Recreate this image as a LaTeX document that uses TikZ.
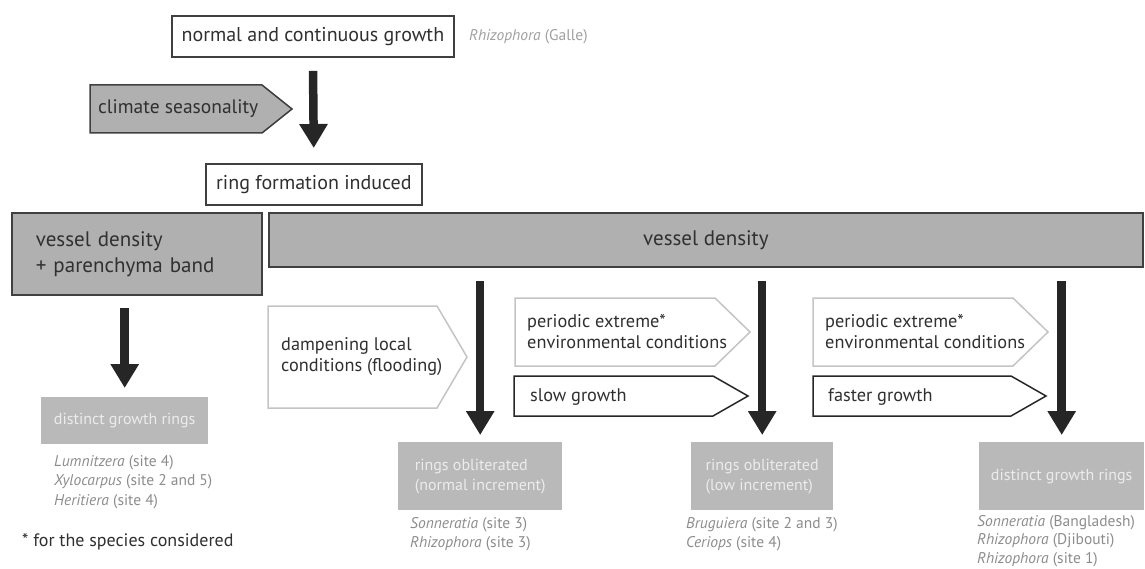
\documentclass[tikz,border=0pt]{standalone}
\usepackage{fontspec}
\setmainfont{PT Sans}
\usetikzlibrary{arrows.meta,positioning}
\definecolor{boxgray}{HTML}{B0B0B0}
\definecolor{resgray}{HTML}{B9B9B9}
\definecolor{restext}{HTML}{ECECEC}
\definecolor{edgedark}{HTML}{404040}
\definecolor{edgelight}{HTML}{C4C4C4}
\definecolor{txtdark}{HTML}{303030}
\definecolor{txtspec}{HTML}{8C8C8C}
\definecolor{txtgalle}{HTML}{A0A0A0}
\definecolor{arrowdark}{HTML}{262626}
\tikzset{
  box/.style={draw=edgedark, line width=1.8pt, inner sep=0pt, text=txtdark, font=\fontsize{20}{24}\selectfont},
  whitebox/.style={box, fill=white},
  graybox/.style={box, fill=boxgray, font=\fontsize{21}{26}\selectfont},
  resbox/.style={fill=resgray, inner sep=0pt, text=restext, align=left, font=\fontsize{16}{20}\selectfont},
  species/.style={inner sep=0pt, text=txtspec, align=left, anchor=north west, font=\fontsize{15.5}{19.5}\selectfont},
  pentlabel/.style={inner sep=0pt, anchor=west, align=left, text=txtdark, font=\fontsize{18.3}{21}\selectfont},
  pentlight/.style={draw=edgelight, line width=1.5pt, fill=white},
  pentdark/.style={draw=black!85, line width=1.5pt, fill=white},
  pentgray/.style={draw=edgedark, line width=1.5pt, fill=boxgray},
  bigarrow/.style={draw=arrowdark, line width=8.5pt, -{Triangle[width=27pt,length=24pt]}},
}
\begin{document}
\begin{tikzpicture}[x=1pt,y=-1pt]
 \useasboundingbox (0,0) rectangle (1145,569);
 % top part
 \node[whitebox, anchor=north west, minimum width=282, minimum height=41] (norm) at (171,15) {normal and continuous growth};
 \node[inner sep=0pt, anchor=west, text=txtgalle, font=\fontsize{15.5}{18}\selectfont] (galle) at (469,37) {\textit{Rhizophora} (Galle)};
 \draw[pentgray] (90,85) -- (262,85) -- (292,109) -- (262,133) -- (90,133) -- cycle;
 \node[pentlabel, font=\fontsize{19.5}{22}\selectfont] (clim) at (98,109) {climate seasonality};
 \node[whitebox, anchor=north west, minimum width=216, minimum height=41] (ring) at (205,163) {ring formation induced};
 \draw[bigarrow, shorten <=13pt, shorten >=15pt] (norm.south) -- (ring.north);
 % vessel density
 \node[graybox, anchor=north west, minimum width=250, minimum height=82, text width=202, inner xsep=24, align=left] (vdl) at (11,212) {vessel density\\+ parenchyma band};
 \node[graybox, anchor=north west, minimum width=874, minimum height=54] (vdr) at (268,212) {vessel density};
 % conditions
 \draw[pentlight] (268,306) -- (437,306) -- (467,357) -- (437,408) -- (268,408) -- cycle;
 \node[pentlabel] (damp) at (281,357) {dampening local\\conditions (flooding)};
 \draw[pentlight] (515,298) -- (715,298) -- (750,332) -- (715,366) -- (515,366) -- cycle;
 \node[pentlabel] (perA) at (527,332) {periodic extreme*\\environmental conditions};
 \draw[pentdark] (514,376) -- (713,376) -- (748,396) -- (713,416) -- (514,416) -- cycle;
 \node[pentlabel] (slow) at (530,397) {slow growth};
 \draw[pentlight] (813,298) -- (1013,298) -- (1048,332) -- (1013,366) -- (813,366) -- cycle;
 \node[pentlabel] (perB) at (825,332) {periodic extreme*\\environmental conditions};
 \draw[pentdark] (813,376) -- (1011,376) -- (1046,396) -- (1011,416) -- (813,416) -- cycle;
 \node[pentlabel] (fast) at (828,397) {faster growth};
 % results
 \node[resbox, anchor=north west, minimum width=167, minimum height=47] (resA) at (41,397) {distinct growth rings};
 \node[resbox, anchor=north west, minimum width=164, minimum height=68] (resB) at (398,442) {rings obliterated\\(normal increment)};
 \node[resbox, anchor=north west, minimum width=142, minimum height=68] (resC) at (691,442) {rings obliterated\\(low increment)};
 \node[resbox, anchor=north west, minimum width=165, minimum height=68] (resD) at (979,442) {distinct growth rings};
 \draw[bigarrow, shorten <=12pt, shorten >=9pt] (resA.north |- vdl.south) -- (resA.north);
 \draw[bigarrow, shorten <=13pt, shorten >=7pt] (resB.north |- vdr.south) -- (resB.north);
 \draw[bigarrow, shorten <=13pt, shorten >=7pt] (resC.north |- vdr.south) -- (resC.north);
 \draw[bigarrow, shorten <=13pt, shorten >=7pt] (resD.north |- vdr.south) -- (resD.north);
 % species
 \node[species] (spA) at (54,455) {\textit{Lumnitzera} (site 4)\\\textit{Xylocarpus} (site 2 and 5)\\\textit{Heritiera} (site 4)};
 \node[species] (spB) at (410,517) {\textit{Sonneratia} (site 3)\\\textit{Rhizophora} (site 3)};
 \node[species] (spC) at (686,517) {\textit{Bruguiera} (site 2 and 3)\\\textit{Ceriops} (site 4)};
 \node[species, font=\fontsize{15.5}{18.5}\selectfont] (spD) at (977,515) {\textit{Sonneratia} (Bangladesh)\\\textit{Rhizophora} (Djibouti)\\\textit{Rhizophora} (site 1)};
 \node[inner sep=0pt, anchor=west, text=txtdark, font=\fontsize{18}{21}\selectfont] (note) at (22,542) {* for the species considered};
\end{tikzpicture}
\end{document}
